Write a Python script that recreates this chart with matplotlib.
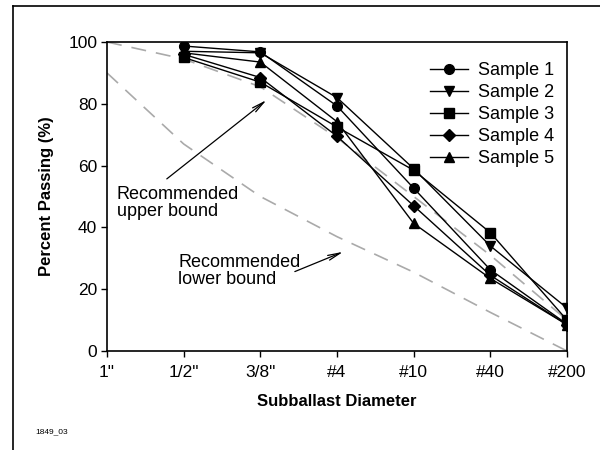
import matplotlib.pyplot as plt
from matplotlib.lines import Line2D

plt.rcParams['font.family'] = ['Liberation Sans', 'DejaVu Sans']

# sieve sizes (x categories)
sizes = ['1"', '1/2"', '3/8"', '#4', '#10', '#40', '#200']
xpos = list(range(len(sizes)))

# recommended gradation bounds
upper_bound = [100, 94.5, 85.5, 69, 50, 31, 10]
lower_bound = [90, 67, 50, 37, 25.5, 12.5, 0]

# samples (start at 1/2")
sample_1 = [98.7, 96.8, 79.3, 52.7, 26.3, 8.7]
sample_2 = [97.0, 96.5, 82.0, 59.0, 34.0, 13.9]
sample_3 = [95.0, 87.0, 72.5, 58.5, 38.3, 10.0]
sample_4 = [96.0, 88.5, 69.5, 47.0, 24.5, 8.5]
sample_5 = [96.5, 93.5, 74.2, 41.3, 23.5, 8.5]

samples = [sample_1, sample_2, sample_3, sample_4, sample_5]
labels = ["Sample 1", "Sample 2", "Sample 3", "Sample 4", "Sample 5"]
markers = ["o", "v", "s", "D", "^"]
msizes = [7, 7.5, 6.5, 6, 7.5]

fig = plt.figure(figsize=(6, 4.5), dpi=100)
ax = fig.add_axes([107 / 600, 1 - 351 / 450, 460 / 600, 309 / 450])

# bounds
for b in (upper_bound, lower_bound):
    ax.plot(xpos, b, color="#aaaaaa", lw=1.2, dashes=(9, 6), zorder=1)

for data, lab, m, ms in zip(samples, labels, markers, msizes):
    ax.plot(xpos[1:], data, color="black", lw=1.0, marker=m, markersize=ms,
            label=lab, zorder=3)

ax.set_xlim(0, 6)
ax.set_ylim(0, 100)
ax.set_xticks(xpos)
ax.set_xticklabels(sizes)
ax.set_yticks([0, 20, 40, 60, 80, 100])
ax.tick_params(direction="out", length=4, width=1, labelsize=12.5, pad=3)
ax.tick_params(axis="x", pad=6)
for s in ax.spines.values():
    s.set_linewidth(1.2)

ax.set_xlabel("Subballast Diameter", fontsize=12, fontweight="bold", labelpad=10)
ax.set_ylabel("Percent Passing (%)", fontsize=12, fontweight="bold", labelpad=10)

ax.legend(loc="upper left", bbox_to_anchor=(0.702, 0.935), frameon=False,
          fontsize=13, handlelength=2.1, handletextpad=0.55, labelspacing=0.28,
          borderpad=0, borderaxespad=0)

# annotations
ax.text(0.125, 47.9, "Recommended\nupper bound", fontsize=13, va="center",
        ha="left", linespacing=1.05)
ax.annotate("", xy=(2.08, 81.2), xytext=(0.78, 55.7),
            arrowprops=dict(arrowstyle="->,head_length=0.9,head_width=0.18",
                            color="black", lw=0.9, shrinkA=0, shrinkB=0))
ax.text(0.93, 25.9, "Recommended\nlower bound", fontsize=13, va="center",
        ha="left", linespacing=1.05)
ax.annotate("", xy=(3.08, 32.1), xytext=(2.45, 25.7),
            arrowprops=dict(arrowstyle="->,head_length=0.9,head_width=0.18",
                            color="black", lw=0.9, shrinkA=0, shrinkB=0))

# outer frame and figure id
fig.add_artist(Line2D([12.5 / 600, 12.5 / 600], [0, 1 - 5.5 / 450], color="black", lw=1.2))
fig.add_artist(Line2D([12.5 / 600, 1], [1 - 5.5 / 450, 1 - 5.5 / 450], color="black", lw=1.2))
fig.text(35 / 600, 1 - 432 / 450, "1849_03", fontsize=6, va="center", ha="left")

fig.savefig("out.png", dpi=100)
